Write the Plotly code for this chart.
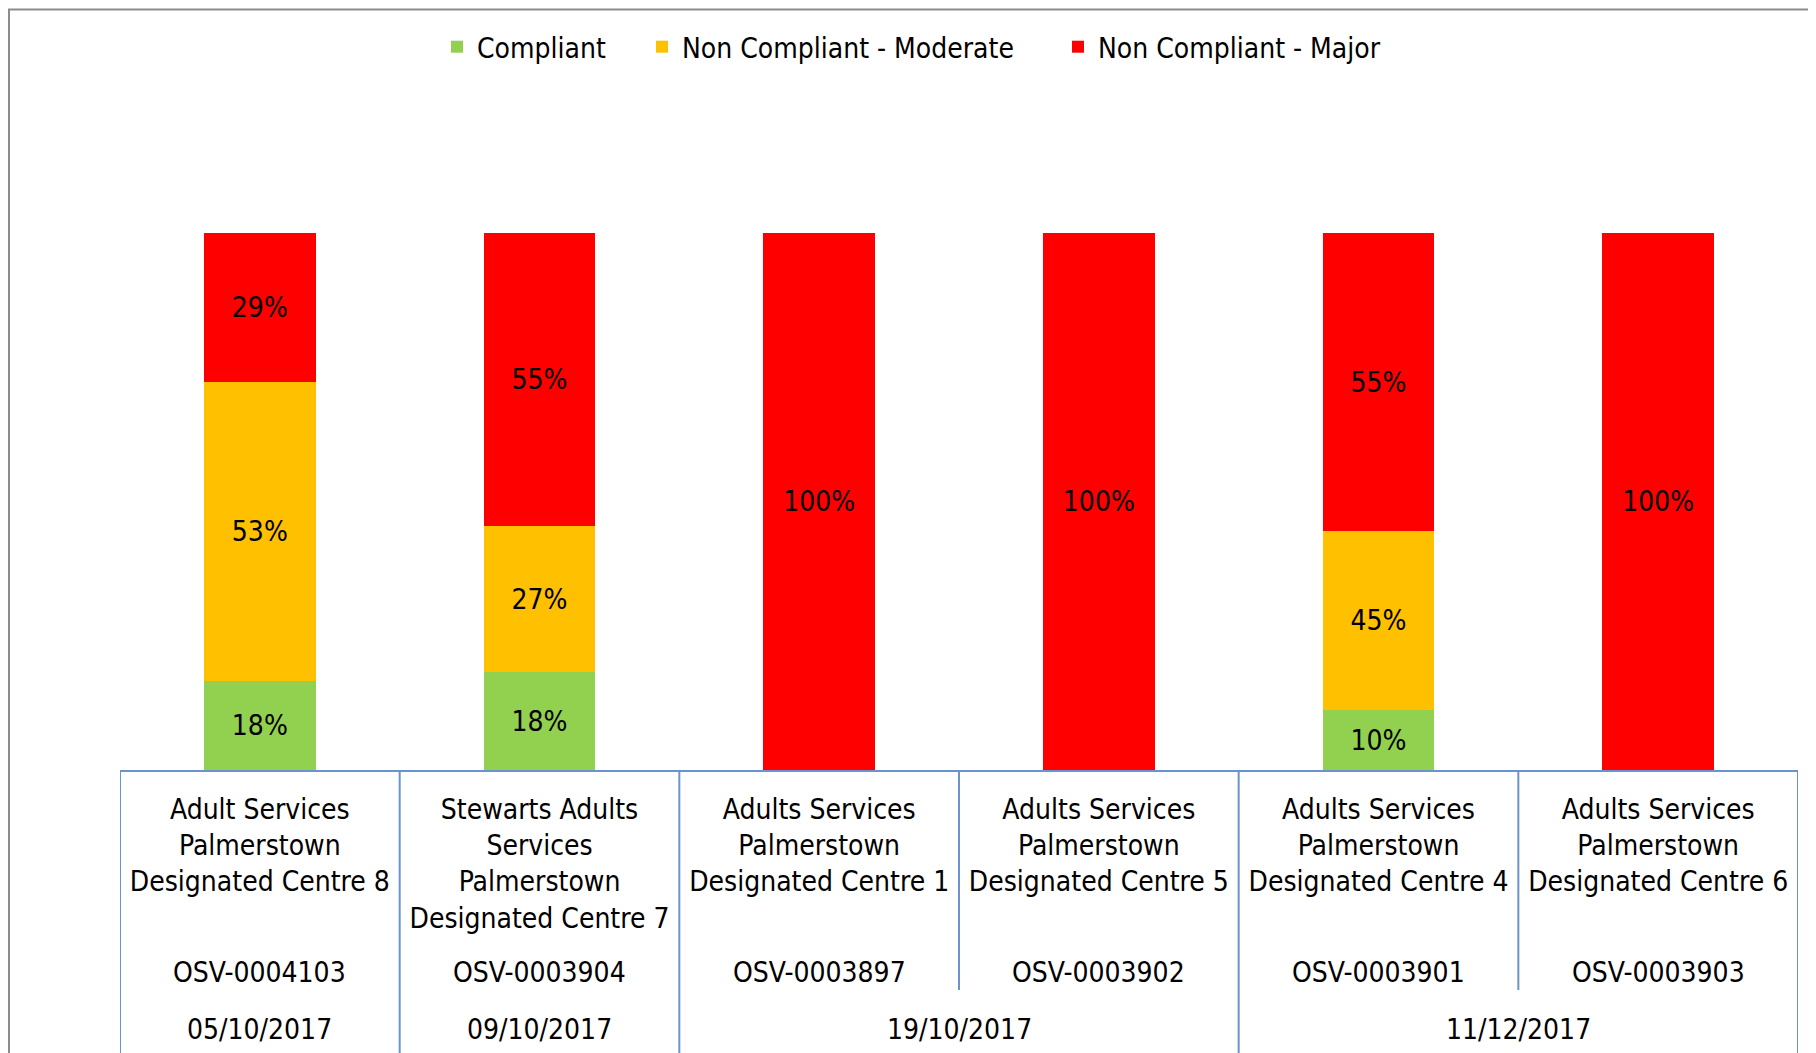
import plotly.graph_objects as go

# ---- data ----
sites = [
    "Adult Services<br>Palmerstown<br>Designated Centre 8",
    "Stewarts Adults<br>Services<br>Palmerstown<br>Designated Centre 7",
    "Adults Services<br>Palmerstown<br>Designated Centre 1",
    "Adults Services<br>Palmerstown<br>Designated Centre 5",
    "Adults Services<br>Palmerstown<br>Designated Centre 4",
    "Adults Services<br>Palmerstown<br>Designated Centre 6",
]
osv_ids = ["OSV-0004103", "OSV-0003904", "OSV-0003897", "OSV-0003902", "OSV-0003901", "OSV-0003903"]
dates = ["05/10/2017", "09/10/2017", "19/10/2017", "11/12/2017"]
date_span = [(0, 0), (1, 1), (2, 3), (4, 5)]  # first and last site index for each date

series_names = ["Compliant", "Non Compliant - Moderate", "Non Compliant - Major"]
compliant_counts = [3, 2, 0, 0, 1, 0]
moderate_counts = [10, 3, 0, 0, 3, 0]
major_counts = [5, 6, 1, 1, 5, 1]
compliant_labels = ["18%", "18%", "", "", "10%", ""]
moderate_labels = ["53%", "27%", "", "", "45%", ""]
major_labels = ["29%", "55%", "100%", "100%", "55%", "100%"]
colors = ["#92D050", "#FFC000", "#FF0000"]

FONT = "DejaVu Sans Condensed, DejaVu Sans, sans-serif"
FS = 28
OFF = 8  # page body margin
SW, SH = 1816, 1053
W, H = SW - OFF, SH - OFF
# plot area in screen pixels
PX0, PX1, PY0, PY1 = 120, 1798, 233, 770
L, R, T, B = PX0 - OFF, W - (PX1 - OFF), PY0 - OFF, H - (PY1 - OFF)
plot_h = PY1 - PY0
plot_w = PX1 - PX0

def py(pix):  # screen pixel y -> paper y
    return (PY1 - pix) / plot_h

def px(pix):  # screen pixel x -> paper x
    return (pix - PX0) / plot_w

x = list(range(len(sites)))
legend_names = ["legend", "legend2", "legend3"]
legend_left = [457, 662, 1078]  # screen x of each legend entry
fig = go.Figure()
for name, vals, labs, col, lg in zip(series_names,
                                     [compliant_counts, moderate_counts, major_counts],
                                     [compliant_labels, moderate_labels, major_labels],
                                     colors, legend_names):
    fig.add_trace(go.Bar(
        x=x, y=vals, name=name, marker=dict(color=col, line=dict(width=0)),
        text=labs, textposition="inside", insidetextanchor="middle", textangle=0,
        textfont=dict(family=FONT, size=FS, color="black"),
        hoverinfo="skip", legend=lg,
    ))

line_col = "#6A93D0"
shapes = []
n = len(sites)
for i in range(n + 1):
    bx = i - 0.5
    inner = any(a < bx < b for a, b in date_span)
    shapes.append(dict(type="line", xref="x", yref="paper", x0=bx, x1=bx,
                       y0=0, y1=py(990) if inner else py(1070),
                       line=dict(color=line_col, width=2)))
# outer chart border
shapes.append(dict(type="rect", xref="paper", yref="paper",
                   x0=px(9), x1=px(1840), y0=py(9.5), y1=py(1080),
                   line=dict(color="#8C8C8C", width=2), fillcolor="rgba(0,0,0,0)", layer="below"))

annotations = []
for i, o in enumerate(osv_ids):
    annotations.append(dict(x=i, y=py(972), xref="x", yref="paper", text=o, showarrow=False,
                            yanchor="middle", font=dict(family=FONT, size=FS, color="black")))
for d, (a, b) in zip(dates, date_span):
    annotations.append(dict(x=(a + b) / 2, y=py(1029), xref="x", yref="paper", text=d, showarrow=False,
                            yanchor="middle", font=dict(family=FONT, size=FS, color="black")))

legend_common = dict(orientation="h", yanchor="middle", y=py(47), xanchor="left",
                     font=dict(family=FONT, size=FS, color="black"),
                     bgcolor="rgba(0,0,0,0)", borderwidth=0)
legends = {}
for lg, lx in zip(legend_names, legend_left):
    legends[lg] = dict(legend_common, x=px(lx - 20))

fig.update_layout(
    width=W, height=H, margin=dict(l=L, r=R, t=T, b=B, autoexpand=False),
    barmode="stack", barnorm="percent", bargap=0.6,
    plot_bgcolor="white", paper_bgcolor="white",
    font=dict(family=FONT, size=FS, color="black"),
    showlegend=True,
    xaxis=dict(tickmode="array", tickvals=x, ticktext=sites, range=[-0.5, n - 0.5],
               showline=True, linecolor=line_col, linewidth=2, ticks="", showgrid=False,
               zeroline=False, tickfont=dict(family=FONT, size=FS, color="black"),
               ticklabelstandoff=13),
    yaxis=dict(visible=False, range=[0, 100]),
    shapes=shapes, annotations=annotations,
    uniformtext=dict(mode="show", minsize=FS),
    **legends,
)
fig.write_html("out.html")
